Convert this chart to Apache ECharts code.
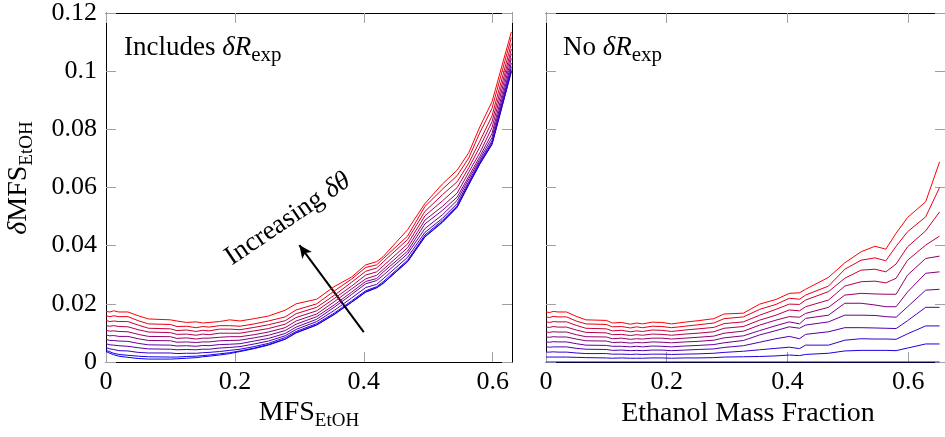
<!DOCTYPE html>
<html><head><meta charset="utf-8">
<script src="https://cdn.jsdelivr.net/npm/echarts@6/dist/echarts.min.js"></script>
<style>html,body{margin:0;padding:0;background:#fff;overflow:hidden}#c{width:945px;height:437px}</style>
</head><body><div id="c"></div>
<script>
// ---- data ----
const xValues = [0, 0.006, 0.012, 0.02, 0.034, 0.05, 0.066, 0.1, 0.11, 0.125, 0.14, 0.15, 0.16, 0.176, 0.192, 0.208, 0.23, 0.252, 0.278, 0.295, 0.327, 0.354, 0.381, 0.403, 0.42, 0.43, 0.468, 0.495, 0.522, 0.545, 0.563, 0.58, 0.599, 0.629, 0.652];

// Left panel (Includes dR_exp), k = 0 (blue) ... 10 (red)
const leftK0 = [0.0036,0.0030,0.0025,0.0020,0.0016,0.0012,0.0010,0.0010,0.0011,0.0013,0.0015,0.0018,0.0020,0.0024,0.0029,0.0036,0.0046,0.0058,0.0078,0.0100,0.0127,0.0163,0.0205,0.0240,0.0255,0.0270,0.0345,0.0430,0.0480,0.0532,0.0610,0.0680,0.0748,0.0998];
const leftK1 = [0.0040,0.0035,0.0030,0.0026,0.0023,0.0020,0.0018,0.0017,0.0017,0.0019,0.0020,0.0022,0.0024,0.0028,0.0032,0.0038,0.0048,0.0060,0.0079,0.0101,0.0128,0.0164,0.0206,0.0241,0.0256,0.0271,0.0346,0.0432,0.0482,0.0534,0.0611,0.0681,0.0750,0.1000];
const leftK2 = [0.0050,0.0045,0.0043,0.0039,0.0038,0.0033,0.0031,0.0031,0.0029,0.0030,0.0030,0.0032,0.0033,0.0036,0.0040,0.0044,0.0053,0.0064,0.0084,0.0105,0.0132,0.0168,0.0210,0.0245,0.0259,0.0276,0.0350,0.0437,0.0487,0.0538,0.0615,0.0685,0.0754,0.1006];
const leftK3 = [0.0063,0.0059,0.0058,0.0056,0.0054,0.0049,0.0045,0.0044,0.0042,0.0043,0.0042,0.0044,0.0044,0.0048,0.0050,0.0053,0.0062,0.0072,0.0090,0.0112,0.0139,0.0177,0.0220,0.0256,0.0267,0.0286,0.0360,0.0446,0.0494,0.0545,0.0621,0.0690,0.0761,0.1016];
const leftK4 = [0.0078,0.0074,0.0074,0.0072,0.0071,0.0064,0.0059,0.0058,0.0055,0.0056,0.0054,0.0057,0.0056,0.0060,0.0061,0.0063,0.0072,0.0081,0.0098,0.0120,0.0147,0.0188,0.0232,0.0269,0.0280,0.0298,0.0372,0.0459,0.0506,0.0556,0.0630,0.0697,0.0772,0.1028];
const leftK5 = [0.0093,0.0090,0.0091,0.0088,0.0088,0.0080,0.0074,0.0073,0.0068,0.0069,0.0067,0.0069,0.0069,0.0073,0.0074,0.0075,0.0083,0.0092,0.0108,0.0130,0.0156,0.0196,0.0240,0.0277,0.0287,0.0309,0.0381,0.0475,0.0521,0.0567,0.0639,0.0706,0.0786,0.1044];
const leftK6 = [0.0109,0.0106,0.0107,0.0105,0.0104,0.0095,0.0088,0.0087,0.0081,0.0083,0.0079,0.0082,0.0082,0.0085,0.0087,0.0087,0.0094,0.0103,0.0118,0.0141,0.0165,0.0207,0.0251,0.0286,0.0298,0.0318,0.0393,0.0488,0.0535,0.0581,0.0653,0.0719,0.0806,0.1060];
const leftK7 = [0.0125,0.0123,0.0125,0.0122,0.0121,0.0111,0.0103,0.0101,0.0095,0.0096,0.0092,0.0096,0.0094,0.0099,0.0099,0.0099,0.0107,0.0115,0.0130,0.0153,0.0176,0.0218,0.0261,0.0299,0.0310,0.0330,0.0406,0.0503,0.0554,0.0600,0.0668,0.0739,0.0826,0.1076];
const leftK8 = [0.0143,0.0139,0.0141,0.0139,0.0139,0.0127,0.0116,0.0114,0.0108,0.0110,0.0105,0.0109,0.0107,0.0113,0.0113,0.0111,0.0119,0.0128,0.0142,0.0166,0.0188,0.0229,0.0274,0.0312,0.0323,0.0344,0.0421,0.0518,0.0575,0.0620,0.0684,0.0759,0.0846,0.1095];
const leftK9 = [0.0159,0.0156,0.0159,0.0156,0.0156,0.0142,0.0131,0.0129,0.0122,0.0123,0.0118,0.0122,0.0120,0.0125,0.0125,0.0123,0.0131,0.0141,0.0155,0.0179,0.0200,0.0244,0.0285,0.0325,0.0334,0.0355,0.0433,0.0535,0.0594,0.0641,0.0702,0.0788,0.0872,0.1116];
const leftK10 = [0.0174,0.0172,0.0176,0.0172,0.0172,0.0159,0.0148,0.0145,0.0141,0.0136,0.0138,0.0134,0.0136,0.0139,0.0145,0.0141,0.0149,0.0158,0.0178,0.0200,0.0216,0.0259,0.0292,0.0334,0.0345,0.0362,0.0455,0.0545,0.0612,0.0660,0.0720,0.0808,0.0895,0.1135];

// Right panel (No dR_exp)
const rightK0 = [0,0,0,0,0,0,0,0,0,0,0,0,0,0,0,0,0,0,0,0,0,0,0,0,0,0,0,0,0,0,0,0,0,0,0];
const rightK1 = [0.0017,0.0017,0.0017,0.0017,0.0017,0.0016,0.0015,0.0014,0.0013,0.0014,0.0013,0.0013,0.0013,0.0014,0.0014,0.0013,0.0014,0.0014,0.0015,0.0017,0.0018,0.0019,0.0021,0.0024,0.0022,0.0026,0.0030,0.0038,0.0040,0.0040,0.0040,0.0039,0.0048,0.0062,0.0062];
const rightK2 = [0.0034,0.0034,0.0035,0.0034,0.0034,0.0031,0.0029,0.0029,0.0027,0.0027,0.0026,0.0027,0.0026,0.0027,0.0027,0.0026,0.0027,0.0028,0.0030,0.0033,0.0037,0.0042,0.0047,0.0051,0.0046,0.0058,0.0058,0.0075,0.0080,0.0079,0.0079,0.0078,0.0097,0.0124,0.0124];
const rightK3 = [0.0052,0.0051,0.0052,0.0052,0.0052,0.0047,0.0044,0.0043,0.0040,0.0041,0.0039,0.0040,0.0039,0.0041,0.0041,0.0039,0.0041,0.0043,0.0045,0.0050,0.0056,0.0068,0.0080,0.0088,0.0080,0.0095,0.0104,0.0118,0.0118,0.0117,0.0116,0.0115,0.0142,0.0188,0.0188];
const rightK4 = [0.0069,0.0068,0.0070,0.0069,0.0069,0.0063,0.0058,0.0057,0.0054,0.0054,0.0052,0.0054,0.0052,0.0055,0.0054,0.0052,0.0055,0.0057,0.0060,0.0066,0.0074,0.0093,0.0108,0.0121,0.0116,0.0127,0.0138,0.0161,0.0161,0.0160,0.0156,0.0154,0.0190,0.0247,0.0250];
const rightK5 = [0.0086,0.0085,0.0087,0.0086,0.0086,0.0079,0.0073,0.0072,0.0067,0.0068,0.0065,0.0067,0.0066,0.0069,0.0068,0.0066,0.0069,0.0071,0.0075,0.0083,0.0090,0.0108,0.0125,0.0138,0.0131,0.0150,0.0161,0.0202,0.0202,0.0196,0.0190,0.0190,0.0241,0.0305,0.0310];
const rightK6 = [0.0103,0.0102,0.0104,0.0103,0.0103,0.0094,0.0087,0.0086,0.0080,0.0082,0.0078,0.0080,0.0079,0.0082,0.0082,0.0079,0.0082,0.0085,0.0089,0.0099,0.0106,0.0127,0.0144,0.0156,0.0154,0.0167,0.0188,0.0230,0.0236,0.0234,0.0233,0.0233,0.0299,0.0356,0.0364];
const rightK7 = [0.0120,0.0119,0.0122,0.0120,0.0120,0.0110,0.0102,0.0100,0.0094,0.0095,0.0091,0.0094,0.0092,0.0096,0.0095,0.0092,0.0096,0.0099,0.0104,0.0116,0.0122,0.0144,0.0161,0.0179,0.0176,0.0190,0.0213,0.0261,0.0276,0.0278,0.0272,0.0288,0.0350,0.0402,0.0433];
const rightK8 = [0.0138,0.0136,0.0139,0.0138,0.0138,0.0126,0.0116,0.0114,0.0107,0.0109,0.0104,0.0107,0.0105,0.0110,0.0109,0.0105,0.0110,0.0114,0.0119,0.0132,0.0138,0.0161,0.0181,0.0199,0.0198,0.0213,0.0242,0.0288,0.0316,0.0319,0.0310,0.0337,0.0396,0.0451,0.0516];
const rightK9 = [0.0155,0.0153,0.0157,0.0155,0.0155,0.0141,0.0131,0.0129,0.0121,0.0122,0.0117,0.0121,0.0118,0.0123,0.0122,0.0118,0.0123,0.0128,0.0134,0.0149,0.0155,0.0181,0.0198,0.0219,0.0216,0.0230,0.0261,0.0319,0.0350,0.0358,0.0348,0.0398,0.0448,0.0499,0.0600];
const rightK10 = [0.0172,0.0170,0.0174,0.0172,0.0172,0.0157,0.0145,0.0143,0.0134,0.0136,0.0130,0.0134,0.0131,0.0137,0.0136,0.0131,0.0137,0.0142,0.0149,0.0165,0.0168,0.0199,0.0215,0.0236,0.0238,0.0250,0.0291,0.0341,0.0379,0.0398,0.0388,0.0443,0.0497,0.0551,0.0688];

const xTicks = [0, 0.2, 0.4, 0.6];
const yTicks = [0, 0.02, 0.04, 0.06, 0.08, 0.1, 0.12];
const arrowFrom = [0.4, 0.0103];
const arrowTo = [0.3, 0.0402];

// ---- chart ----
const leftLines = [leftK0,leftK1,leftK2,leftK3,leftK4,leftK5,leftK6,leftK7,leftK8,leftK9,leftK10];
const rightLines = [rightK0,rightK1,rightK2,rightK3,rightK4,rightK5,rightK6,rightK7,rightK8,rightK9,rightK10];
function col(k){ const r = Math.round(255*k/10); return 'rgb(' + r + ',0,' + (255-r) + ')'; }
const tickStyle = {inside:true, length:10, lineStyle:{color:'#a0a0a0', width:1}};
const frameLine = {show:true, onZero:false, lineStyle:{color:'#000', width:1}};
const labelBase = {fontFamily:'Liberation Serif', fontSize:26, color:'#000'};
const fmtX = v => xTicks.some(t => Math.abs(t - v) < 1e-9) ? String(+v.toFixed(1)) : '';
const fmtY = v => yTicks.some(t => Math.abs(t - v) < 1e-9) ? String(+v.toFixed(2)) : '';

function xAxisDef(g, max, pos, labels) {
  return {
    gridIndex:g, type:'value', position:pos, min:0, max:max, interval:0.2,
    axisLine:frameLine, axisTick:tickStyle, splitLine:{show:false},
    axisLabel: labels ? Object.assign({show:true, margin:7, showMaxLabel:false, formatter:fmtX}, labelBase) : {show:false}
  };
}
function yAxisDef(g, pos, labels) {
  return {
    gridIndex:g, type:'value', position:pos, min:0, max:0.12, interval:0.02,
    axisLine:frameLine, axisTick:tickStyle, splitLine:{show:false},
    axisLabel: labels ? Object.assign({show:true, margin:9, formatter:fmtY}, labelBase) : {show:false}
  };
}

const series = [];
leftLines.forEach((arr, k) => {
  const s = {
    type:'line', xAxisIndex:0, yAxisIndex:0, showSymbol:false, animation:false, silent:true,
    data: arr.map((y, i) => [xValues[i], y]),
    lineStyle:{color:col(k), width:1}, itemStyle:{color:col(k)}, z:2+k
  };
  if (k === 0) {
    s.markLine = {
      silent:true, animation:false, symbol:['none','arrow'], symbolSize:[9,13],
      label:{show:false}, lineStyle:{color:'#000', width:2, type:'solid'},
      data:[[{coord:arrowFrom}, {coord:arrowTo}]]
    };
  }
  series.push(s);
});
rightLines.forEach((arr, k) => {
  series.push({
    type:'line', xAxisIndex:2, yAxisIndex:2, showSymbol:false, animation:false, silent:true,
    data: arr.map((y, i) => [xValues[i], y]),
    lineStyle:{color:col(k), width:1}, itemStyle:{color:col(k)}, z:2+k
  });
});

// text with sub/italic pieces, measured with canvas so the pieces sit side by side
const mctx = document.createElement('canvas').getContext('2d');
function mathText(pieces, cx, cy, rot, anchor) {
  let widths = pieces.map(p => { mctx.font = p.font; return mctx.measureText(p.t).width; });
  const total = widths.reduce((a, b) => a + b, 0);
  let x0 = anchor === 'left' ? 0 : -total / 2;
  const children = pieces.map((p, i) => {
    const el = {type:'text', x:x0, y:p.dy || 0, silent:true,
      style:{text:p.t, font:p.font, fill:'#000', align:'left', verticalAlign:'middle'}};
    x0 += widths[i];
    return el;
  });
  return {type:'group', x:cx, y:cy, rotation:rot || 0, silent:true, children:children};
}
const F_MAIN = '28px "Liberation Serif"';
const F_ITAL = 'italic 28px "Liberation Serif"';
const F_SUB = '19px "Liberation Serif"';
const A_MAIN = '27px "Liberation Serif"';
const A_ITAL = 'italic 27px "Liberation Serif"';
const A_SUB = '21px "Liberation Serif"';

const chart = echarts.init(document.getElementById('c'), null, {renderer:'canvas'});
chart.setOption({
  animation:false,
  backgroundColor:'#fff',
  grid:[
    {left:106, top:13, width:406, height:349},
    {left:546, top:13, width:405, height:349}
  ],
  xAxis:[
    xAxisDef(0, 0.63, 'bottom', true),
    xAxisDef(0, 0.63, 'top', false),
    xAxisDef(1, 0.661, 'bottom', true),
    xAxisDef(1, 0.661, 'top', false)
  ],
  yAxis:[
    yAxisDef(0, 'left', true),
    yAxisDef(0, 'right', false),
    yAxisDef(1, 'left', false),
    yAxisDef(1, 'right', false)
  ],
  series: series,
  graphic:[
    mathText([{t:'MFS', font:F_MAIN}, {t:'EtOH', font:F_SUB, dy:8.5}], 309, 413, 0, 'center'),
    mathText([{t:'Ethanol Mass Fraction', font:F_MAIN}], 748, 414, 0, 'center'),
    mathText([{t:'δ', font:F_ITAL}, {t:'MFS', font:F_MAIN}, {t:'EtOH', font:F_SUB, dy:8.5}], 19, 178, Math.PI/2, 'center'),
    mathText([{t:'Includes ', font:A_MAIN}, {t:'δR', font:A_ITAL}, {t:'exp', font:A_SUB, dy:7.5}], 124, 48, 0, 'left'),
    mathText([{t:'No ', font:A_MAIN}, {t:'δR', font:A_ITAL}, {t:'exp', font:A_SUB, dy:7.5}], 563, 48, 0, 'left'),
    mathText([{t:'Increasing ', font:'27px "Liberation Serif"'}, {t:'δθ', font:'italic 27px "Liberation Serif"'}], 288, 219, 34*Math.PI/180, 'center')
  ]
});
</script></body></html>
